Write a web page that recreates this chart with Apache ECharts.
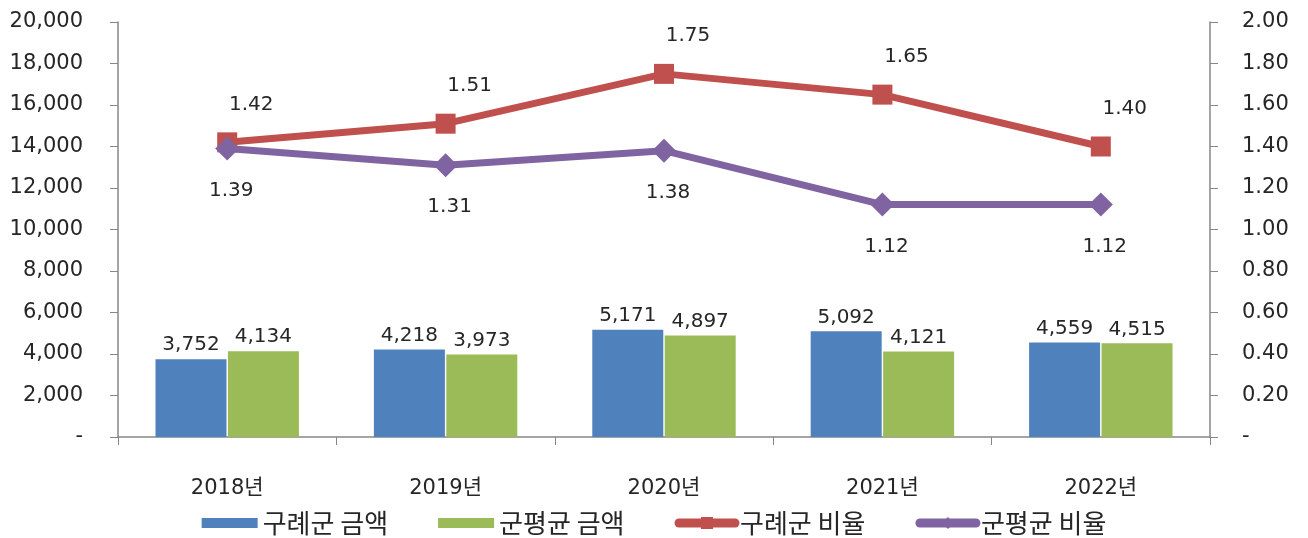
<!DOCTYPE html>
<html>
<head>
    <meta charset="utf-8">
    <title>ECharts</title>
    <script src="https://cdn.jsdelivr.net/npm/echarts@6/dist/echarts.min.js"></script>
    <style type="text/css">
        * { margin: 0; padding: 0; }
        body { background: #fff; }
    </style>
</head>
<body>
<div id="main" style="width: 1308px; height: 538px;"></div>
<script type="text/javascript">
    // 데이터
    var years = ['2018년', '2019년', '2020년', '2021년', '2022년'];
    var guryeAmount = [3752, 4218, 5171, 5092, 4559];
    var gunpyeongAmount = [4134, 3973, 4897, 4121, 4515];
    var guryeRatio = [1.42, 1.51, 1.75, 1.65, 1.40];
    var gunpyeongRatio = [1.39, 1.31, 1.38, 1.12, 1.12];

    var FONT = "'DejaVu Sans', 'Noto Sans CJK KR', sans-serif";
    var TEXT = '#262626';
    var AXIS = '#868686';

    // 막대 범례 아이콘: 위아래 점으로 높이를 잡고 가운데만 얇은 막대
    var BAR_ICON = 'path://M0,0h0.01v0.01h-0.01z M0,2.5h56v10h-56z M0,14.99h0.01v0.01h-0.01z';

    var myChart = echarts.init(document.getElementById('main'));

    function fmtThousand(v) {
        if (v === 0) return '-';
        return String(v).replace(/\B(?=(\d{3})+(?!\d))/g, ',');
    }

    var option = {
        animation: false,
        color: ['#4F81BD', '#9BBB59', '#C0504D', '#8064A2'],
        textStyle: { fontFamily: FONT, color: TEXT },
        grid: {
            left: 118,
            right: 98,
            top: 22,
            bottom: 101
        },
        legend: {
            left: 'center',
            top: 505,
            itemGap: 50,
            itemWidth: 56,
            itemHeight: 15,
            textStyle: {
                fontFamily: "'Noto Sans CJK KR', sans-serif",
                fontSize: 26,
                color: TEXT
            },
            data: [
                { name: '구례군 금액', icon: BAR_ICON },
                { name: '군평균 금액', icon: BAR_ICON },
                { name: '구례군 비율', lineStyle: { width: 9, cap: 'round' } },
                { name: '군평균 비율', lineStyle: { width: 9, cap: 'round' } }
            ]
        },
        xAxis: {
            type: 'category',
            data: years,
            axisLine: { lineStyle: { color: AXIS, width: 1.5 } },
            axisTick: { show: true, length: 8, lineStyle: { color: AXIS } },
            axisLabel: {
                fontSize: 21,
                color: TEXT,
                margin: 41,
                fontFamily: FONT
            }
        },
        yAxis: [
            {
                type: 'value',
                min: 0,
                max: 20000,
                interval: 2000,
                splitLine: { show: false },
                axisLine: { show: true, lineStyle: { color: AXIS, width: 1.5 } },
                axisTick: { show: true, length: 8, lineStyle: { color: AXIS } },
                axisLabel: {
                    fontSize: 21,
                    color: TEXT,
                    margin: 35,
                    fontFamily: FONT,
                    formatter: fmtThousand
                }
            },
            {
                type: 'value',
                min: 0,
                max: 2,
                interval: 0.2,
                splitLine: { show: false },
                axisLine: { show: true, lineStyle: { color: AXIS, width: 1.5 } },
                axisTick: { show: true, length: 8, lineStyle: { color: AXIS } },
                axisLabel: {
                    fontSize: 21,
                    color: TEXT,
                    margin: 32,
                    fontFamily: FONT,
                    formatter: function (v) {
                        return v === 0 ? '-' : v.toFixed(2);
                    }
                }
            }
        ],
        series: [
            {
                name: '구례군 금액',
                type: 'bar',
                barWidth: 71,
                barGap: '2%',
                data: guryeAmount,
                label: {
                    show: true,
                    position: 'top',
                    distance: 4,
                    fontSize: 20,
                    color: TEXT,
                    fontFamily: FONT,
                    formatter: function (p) { return fmtThousand(p.value); }
                }
            },
            {
                name: '군평균 금액',
                type: 'bar',
                barWidth: 71,
                data: gunpyeongAmount,
                label: {
                    show: true,
                    position: 'top',
                    distance: 4,
                    fontSize: 20,
                    color: TEXT,
                    fontFamily: FONT,
                    formatter: function (p) { return fmtThousand(p.value); }
                }
            },
            {
                name: '구례군 비율',
                type: 'line',
                yAxisIndex: 1,
                data: guryeRatio,
                symbol: 'rect',
                symbolSize: 20,
                lineStyle: { width: 7 },
                label: {
                    show: true,
                    position: 'top',
                    distance: 18,
                    offset: [24, 0],
                    fontSize: 20,
                    color: TEXT,
                    fontFamily: FONT,
                    formatter: function (p) { return p.value.toFixed(2); }
                }
            },
            {
                name: '군평균 비율',
                type: 'line',
                yAxisIndex: 1,
                data: gunpyeongRatio,
                symbol: 'diamond',
                symbolSize: 24,
                lineStyle: { width: 7 },
                label: {
                    show: true,
                    position: 'bottom',
                    distance: 20,
                    offset: [4, 0],
                    fontSize: 20,
                    color: TEXT,
                    fontFamily: FONT,
                    formatter: function (p) { return p.value.toFixed(2); }
                }
            }
        ]
    };

    myChart.setOption(option);

    window.addEventListener('resize', function () {
        myChart.resize();
    });
</script>
</body>
</html>
